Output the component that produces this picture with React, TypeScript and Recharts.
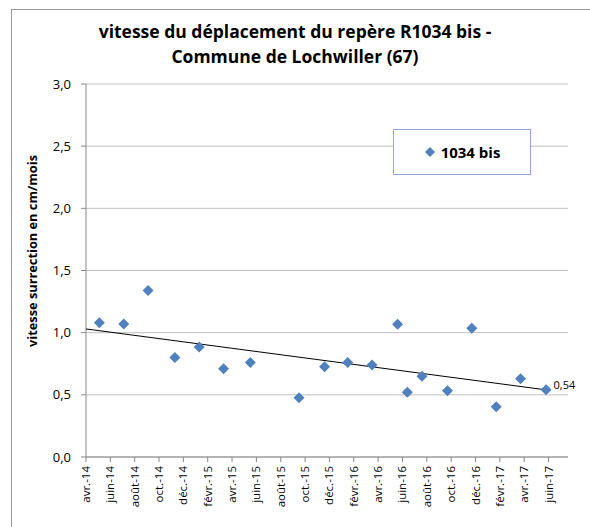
import React from 'react';
import {
  ComposedChart,
  Scatter,
  XAxis,
  YAxis,
  CartesianGrid,
  Legend,
  LabelList,
} from 'recharts';

// months elapsed since avr.-14 for each measurement
const monthOffsets = [1.1, 3.1, 5.1, 7.3, 9.3, 11.3, 13.5, 17.5, 19.6, 21.5, 23.5, 25.6, 26.4, 27.6, 29.7, 31.7, 33.7, 35.7, 37.8];
const speeds = [1.08, 1.07, 1.34, 0.8, 0.885, 0.71, 0.76, 0.477, 0.726, 0.76, 0.74, 1.067, 0.52, 0.65, 0.533, 1.035, 0.405, 0.63, 0.54];

const tickMonths = [0, 2, 4, 6, 8, 10, 12, 14, 16, 18, 20, 22, 24, 26, 28, 30, 32, 34, 36, 38];
const tickLabels = [
  'avr.-14', 'juin-14', 'août-14', 'oct.-14', 'déc.-14', 'févr.-15', 'avr.-15', 'juin-15', 'août-15', 'oct.-15',
  'déc.-15', 'févr.-16', 'avr.-16', 'juin-16', 'août-16', 'oct.-16', 'déc.-16', 'févr.-17', 'avr.-17', 'juin-17',
];
const yTicks = [0, 0.5, 1, 1.5, 2, 2.5, 3];

// linear trend line end points
const trendMonths = [0, 37.8];
const trendValues = [1.03, 0.54];

const seriesName = '1034 bis';

const points = monthOffsets.map((m, i) => ({ x: m, y: speeds[i] }));
const trend = trendMonths.map((m, i) => ({ x: m, y: trendValues[i] }));

const FONT = '"Open Sans", sans-serif';
const BLUE = '#4f81bd';

const fmt = (v: number) => v.toFixed(1).replace('.', ',');

const Diamond = (props: any) => {
  const { cx, cy } = props;
  if (cx == null || cy == null) return <g />;
  const r = 5.5;
  return <polygon points={`${cx},${cy - r} ${cx + r},${cy} ${cx},${cy + r} ${cx - r},${cy}`} fill={BLUE} />;
};

const XTick = (props: any) => {
  const { x, y, payload } = props;
  const idx = tickMonths.indexOf(payload.value);
  return (
    <text
      x={x}
      y={y}
      transform={`rotate(-90, ${x}, ${y})`}
      textAnchor="end"
      dy="0.35em"
      fontSize={11.5}
      fontFamily={FONT}
      fill="#000"
    >
      {tickLabels[idx]}
    </text>
  );
};

const LegendBox = () => (
  <div
    style={{
      width: 136,
      height: 44,
      border: '1px solid #8eaadb',
      background: '#fff',
      display: 'flex',
      alignItems: 'center',
      justifyContent: 'center',
      fontFamily: FONT,
      fontWeight: 700,
      fontSize: 15,
      color: '#000',
    }}
  >
    <svg width={12} height={12} style={{ marginRight: 5 }}>
      <polygon points="6,1 11,6 6,11 1,6" fill={BLUE} />
    </svg>
    {seriesName}
  </div>
);

const LastLabel = (props: any) => {
  const { x, y, index, value } = props;
  if (index !== speeds.length - 1) return null;
  return (
    <text x={x + 12} y={y} dy="0.35em" fontSize={11} fontFamily={FONT} fill="#000">
      {Number(value).toFixed(2).replace('.', ',')}
    </text>
  );
};

export default function App() {
  return (
    <div style={{ position: 'absolute', left: 0, top: 0, width: 590, height: 527, background: '#fff', overflow: 'hidden' }}>
      <div
        style={{
          position: 'absolute',
          left: 11,
          top: 9,
          width: 600,
          height: 600,
          border: '1px solid #999',
          boxSizing: 'border-box',
        }}
      />
      <div
        style={{
          position: 'absolute',
          left: 0,
          top: 19,
          width: 590,
          textAlign: 'center',
          fontFamily: FONT,
          fontWeight: 700,
          fontSize: 17.5,
          lineHeight: '25px',
          color: '#000',
        }}
      >
        vitesse du déplacement du repère R1034 bis -<br />
        Commune de Lochwiller (67)
      </div>
      <div
        style={{
          position: 'absolute',
          left: 32,
          top: 251,
          transform: 'translate(-50%, -50%) rotate(-90deg)',
          whiteSpace: 'nowrap',
          fontFamily: FONT,
          fontWeight: 700,
          fontSize: 12.8,
          color: '#000',
        }}
      >
        vitesse surrection en cm/mois
      </div>
      <div style={{ position: 'absolute', left: 0, top: 0 }}>
        <ComposedChart width={590} height={527} margin={{ top: 84, right: 22, bottom: 0, left: 0 }}>
          <CartesianGrid horizontal vertical={false} stroke="#bfbfbf" />
          <XAxis
            type="number"
            dataKey="x"
            domain={[0, 39.6]}
            ticks={tickMonths}
            interval={0}
            tick={<XTick />}
            tickSize={5}
            tickMargin={4}
            height={70}
            stroke="#888"
            allowDataOverflow
          />
          <YAxis
            type="number"
            dataKey="y"
            domain={[0, 3]}
            ticks={yTicks}
            tickFormatter={fmt}
            width={86}
            tickSize={5}
            tickMargin={10}
            stroke="#888"
            tick={{ fontSize: 13, fontFamily: FONT, fill: '#000' }}
          />
          <Legend
            layout="horizontal"
            align="center"
            verticalAlign="middle"
            content={<LegendBox />}
            wrapperStyle={{ position: 'absolute', left: 393, top: 129, width: 138, height: 46 }}
          />
          <Scatter
            name="trend"
            data={trend}
            line={{ stroke: '#000', strokeWidth: 1 }}
            shape={() => <g />}
            legendType="none"
            isAnimationActive={false}
          />
          <Scatter name={seriesName} data={points} shape={<Diamond />} isAnimationActive={false}>
            <LabelList dataKey="y" content={<LastLabel />} />
          </Scatter>
        </ComposedChart>
      </div>
    </div>
  );
}
